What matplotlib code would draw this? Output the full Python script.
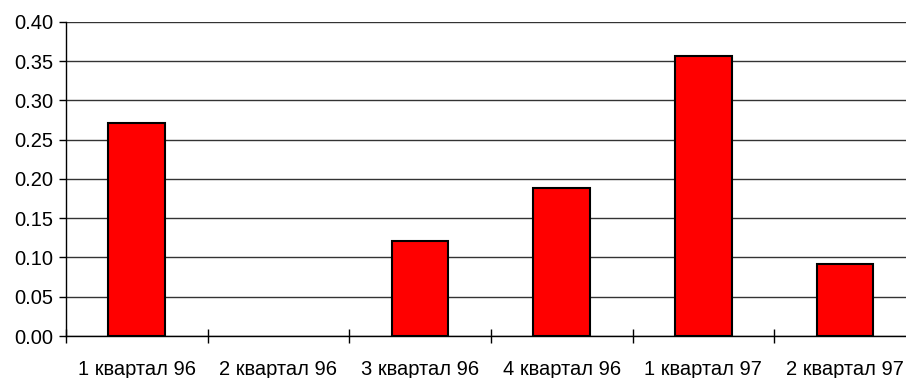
import matplotlib
matplotlib.use("Agg")
import matplotlib.pyplot as plt
import numpy as np

plt.rcParams['font.family'] = ['Liberation Sans', 'DejaVu Sans']

quarters = ["1 квартал 96", "2 квартал 96", "3 квартал 96",
            "4 квартал 96", "1 квартал 97", "2 квартал 97"]
values = [0.271, 0.0, 0.121, 0.188, 0.357, 0.092]
y_ticks = [0.00, 0.05, 0.10, 0.15, 0.20, 0.25, 0.30, 0.35, 0.40]

fig = plt.figure(figsize=(9.06, 3.78), dpi=100)
ax = fig.add_axes([0.0728, 0.111, 0.938, 0.8315])

x = np.arange(len(quarters))
# no outline for empty quarters
edge_w = [1.5 if v > 0 else 0 for v in values]
ax.bar(x, values, width=0.4, color='#ff0000', edgecolor='black',
       linewidth=edge_w, zorder=3)

ax.set_xlim(-0.5, len(quarters) - 0.5)
ax.set_ylim(0, 0.40)
ax.set_yticks(y_ticks)
ax.set_yticklabels([f"{v:.2f}" for v in y_ticks])
ax.yaxis.grid(True, color='#333333', linewidth=1.0, zorder=0)
ax.set_axisbelow(True)

ax.set_xticks(x)
ax.set_xticklabels(quarters)
ax.set_xticks(np.arange(-0.5, len(quarters)), minor=True)
ax.tick_params(axis='x', which='major', length=0, pad=17, labelsize=14.5)
ax.tick_params(axis='x', which='minor', direction='inout', length=10, width=1)
ax.tick_params(axis='y', direction='out', length=5, width=1, pad=4, labelsize=14.5)

for s in ['top', 'right']:
    ax.spines[s].set_visible(False)
ax.spines['left'].set_linewidth(1.0)
ax.spines['bottom'].set_linewidth(1.0)

fig.savefig("out.png", dpi=100)
